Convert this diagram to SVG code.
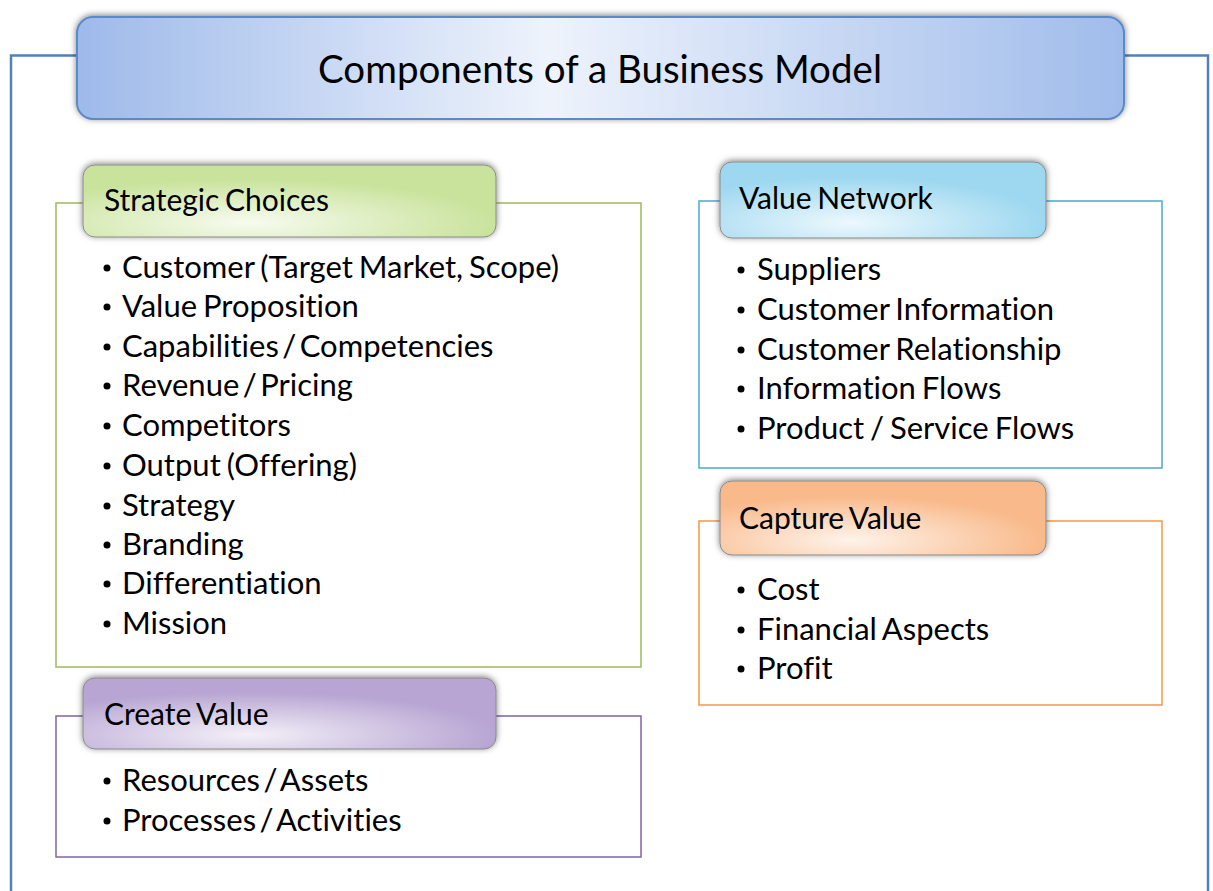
<svg xmlns="http://www.w3.org/2000/svg" width="1213" height="891" viewBox="0 0 1213 891">
<defs>
<linearGradient id="gTitle" x1="0" y1="0" x2="1" y2="0">
<stop offset="0" stop-color="#9EBAEA"/>
<stop offset="0.45" stop-color="#EEF3FC"/>
<stop offset="1" stop-color="#A0BCEB"/>
</linearGradient>
<radialGradient id="gGreen" cx="0.4" cy="0.8" r="0.6">
<stop offset="0" stop-color="#F7FBEF"/>
<stop offset="1" stop-color="#C9E39C"/>
</radialGradient>
<radialGradient id="gBlue" cx="0.4" cy="0.8" r="0.6">
<stop offset="0" stop-color="#EDF8FD"/>
<stop offset="1" stop-color="#9DD8F0"/>
</radialGradient>
<radialGradient id="gOrange" cx="0.4" cy="0.8" r="0.6">
<stop offset="0" stop-color="#FEF3EA"/>
<stop offset="1" stop-color="#F9B98A"/>
</radialGradient>
<radialGradient id="gPurple" cx="0.4" cy="0.8" r="0.6">
<stop offset="0" stop-color="#F3F0F8"/>
<stop offset="1" stop-color="#B8A5D3"/>
</radialGradient>
<filter id="sh" x="-10%" y="-30%" width="120%" height="160%">
<feDropShadow dx="0" dy="-1" stdDeviation="3" flood-color="#000" flood-opacity="0.5"/>
</filter>
</defs>
<style>
text{font-family:Lato,"Open Sans","Liberation Sans",sans-serif;fill:#000;font-variant-ligatures:none;word-spacing:-2px}
.item{font-size:31px}
.sl{word-spacing:-4.5px}
.tab{font-size:30px}
.title{font-size:38px;word-spacing:0}
.box{fill:#fff;stroke-width:1.5}
.tabr{stroke:#8A8A8A;stroke-width:1;filter:url(#sh)}
.b{fill:#000}
</style>
<rect width="1213" height="891" fill="#fff"/>

<g id="frame">
<path d="M11,891 V55.5 H80 M1120,55.5 H1208 V891" fill="none" stroke="#4F81BD" stroke-width="2.5"/>
</g>

<g id="title">
<rect x="77" y="17" width="1047" height="102" rx="16" fill="url(#gTitle)" stroke="#5B8AC8" stroke-width="2" filter="url(#sh)"/>
<text class="title" x="600" y="83" text-anchor="middle" textLength="564" lengthAdjust="spacingAndGlyphs">Components of a Business Model</text>
</g>

<g id="strategic-choices">
<rect class="box" x="56" y="203" width="585" height="464" stroke="#9BBB59"/>
<rect class="tabr" x="83" y="165" width="413" height="72" rx="12" fill="url(#gGreen)"/>
<text class="tab" x="104" y="211">Strategic Choices</text>
<g class="b">
<circle cx="107" cy="268" r="3.5"/><circle cx="107" cy="307" r="3.5"/><circle cx="107" cy="347" r="3.5"/><circle cx="107" cy="386" r="3.5"/><circle cx="107" cy="426" r="3.5"/><circle cx="107" cy="466" r="3.5"/><circle cx="107" cy="506" r="3.5"/><circle cx="107" cy="545" r="3.5"/><circle cx="107" cy="584" r="3.5"/><circle cx="107" cy="624" r="3.5"/>
</g>
<text class="item" x="122" y="278">Customer (Target Market, Scope)</text>
<text class="item" x="122" y="317">Value Proposition</text>
<text class="item sl" x="122" y="357">Capabilities / Competencies</text>
<text class="item sl" x="122" y="396">Revenue / Pricing</text>
<text class="item" x="122" y="436">Competitors</text>
<text class="item" x="122" y="476">Output (Offering)</text>
<text class="item" x="122" y="516">Strategy</text>
<text class="item" x="122" y="555">Branding</text>
<text class="item" x="122" y="594">Differentiation</text>
<text class="item" x="122" y="634">Mission</text>
</g>

<g id="create-value">
<rect class="box" x="56" y="716" width="585" height="141" stroke="#8064A2"/>
<rect class="tabr" x="83" y="678" width="413" height="71" rx="12" fill="url(#gPurple)"/>
<text class="tab" x="104" y="725">Create Value</text>
<g class="b"><circle cx="107" cy="781" r="3.5"/><circle cx="107" cy="821" r="3.5"/></g>
<text class="item sl" x="122" y="791">Resources / Assets</text>
<text class="item sl" x="122" y="831">Processes / Activities</text>
</g>

<g id="value-network">
<rect class="box" x="699" y="201" width="463" height="267" stroke="#4BACC6"/>
<rect class="tabr" x="720" y="162" width="326" height="76" rx="12" fill="url(#gBlue)"/>
<text class="tab" x="739" y="209">Value Network</text>
<g class="b">
<circle cx="741" cy="270" r="3.5"/><circle cx="741" cy="310" r="3.5"/><circle cx="741" cy="350" r="3.5"/><circle cx="741" cy="389" r="3.5"/><circle cx="741" cy="429" r="3.5"/>
</g>
<text class="item" x="757" y="280">Suppliers</text>
<text class="item" x="757" y="320">Customer Information</text>
<text class="item" x="757" y="360">Customer Relationship</text>
<text class="item" x="757" y="399">Information Flows</text>
<text class="item" x="757" y="439">Product / Service Flows</text>
</g>

<g id="capture-value">
<rect class="box" x="699" y="521" width="463" height="184" stroke="#F79646"/>
<rect class="tabr" x="720" y="481" width="326" height="74" rx="12" fill="url(#gOrange)"/>
<text class="tab" x="739" y="529">Capture Value</text>
<g class="b"><circle cx="741" cy="590" r="3.5"/><circle cx="741" cy="630" r="3.5"/><circle cx="741" cy="669" r="3.5"/></g>
<text class="item" x="757" y="600">Cost</text>
<text class="item" x="757" y="640">Financial Aspects</text>
<text class="item" x="757" y="679">Profit</text>
</g>
</svg>
